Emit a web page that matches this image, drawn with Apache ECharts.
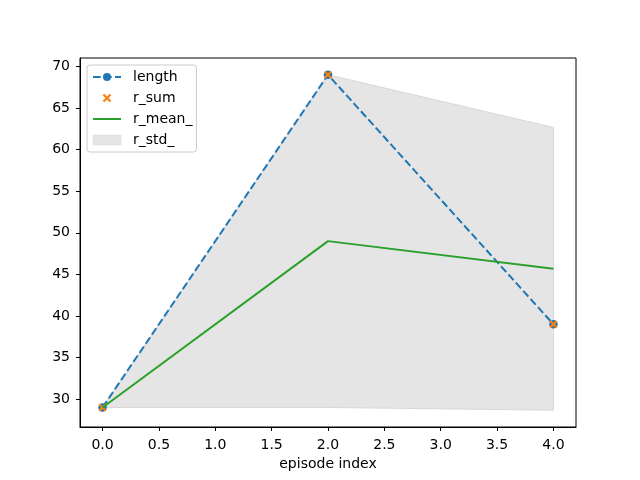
<!DOCTYPE html>
<html>
<head>
<meta charset="utf-8">
<script src="https://cdn.jsdelivr.net/npm/echarts@6/dist/echarts.min.js"></script>
<style>html,body{margin:0;padding:0;background:#fff}#c{width:640px;height:480px}</style>
</head>
<body>
<div id="c"></div>
<script>
// Data
var episodeIdx = [0, 2, 4];
var lengthVals = [29, 69, 39];
var rSumVals = [29, 69, 39];
var rMeanVals = [29, 49, 45.67];
var rStdVals = [0, 20, 17.0];
var xTicks = [0, 0.5, 1, 1.5, 2, 2.5, 3, 3.5, 4];
var yTicks = [30, 35, 40, 45, 50, 55, 60, 65, 70];

var FONT = 'DejaVu Sans';
function pairs(v) { return episodeIdx.map(function (x, i) { return [x, v[i]]; }); }
var bandData = episodeIdx.map(function (x, i) { return [x, rMeanVals[i] - rStdVals[i], rMeanVals[i] + rStdVals[i]]; });

// filled "x" marker shape, centred at (cx,cy), half-size h, arm offset t
function xShape(cx, cy, h, t) {
  var p = [[-h + t, -h], [0, -t], [h - t, -h], [h, -h + t], [t, 0], [h, h - t], [h - t, h], [0, t], [-h + t, h], [-h, h - t], [-t, 0], [-h, -h + t]];
  return p.map(function (q, i) { return (i ? 'L' : 'M') + (cx + q[0]) + ',' + (cy + q[1]); }).join('') + 'Z';
}
var xMark = 'path://' + xShape(5, 5, 5, 1.8);
var LW = 28, LH = 10;
var xLegendIcon = 'path://' + xShape(LW / 2, LH / 2, 4.3, 1.5) + 'M0,0M' + LW + ',' + LH;
var lineLegendIcon = 'path://M0,' + (LH / 2 - 1) + 'h' + LW + 'v2h-' + LW + 'zM0,0M' + LW + ',' + LH;

var chart = echarts.init(document.getElementById('c'), null, { renderer: 'canvas' });
chart.setOption({
  animation: false,
  backgroundColor: '#fff',
  textStyle: { fontFamily: FONT },
  grid: { left: 80, right: 64, top: 58, bottom: 53, show: true, borderColor: '#000', borderWidth: 1, backgroundColor: 'transparent' },
  xAxis: {
    type: 'value', min: -0.2, max: 4.2,
    name: 'episode index', nameLocation: 'middle', nameGap: 30,
    nameTextStyle: { fontFamily: FONT, fontSize: 14, color: '#000' },
    axisLine: { show: true, onZero: false, lineStyle: { color: '#000', width: 1 } },
    splitLine: { show: false },
    axisTick: { show: true, inside: false, length: 4, lineStyle: { color: '#000', width: 1 }, customValues: xTicks },
    axisLabel: { margin: 11, fontFamily: FONT, fontSize: 14, color: '#000', customValues: xTicks,
      formatter: function (v) { return v.toFixed(1); } }
  },
  yAxis: {
    type: 'value', min: 26.65, max: 71.02,
    axisLine: { show: true, onZero: false, lineStyle: { color: '#000', width: 1 } },
    splitLine: { show: false },
    axisTick: { show: true, inside: false, length: 4, lineStyle: { color: '#000', width: 1 }, customValues: yTicks },
    axisLabel: { margin: 10, padding: [3, 0, 0, 0], fontFamily: FONT, fontSize: 14, color: '#000', customValues: yTicks,
      formatter: function (v) { return String(v); } }
  },
  legend: {
    orient: 'vertical', left: 87, top: 65,
    padding: [5, 4, 5, 5],
    itemWidth: LW, itemHeight: LH, itemGap: 7,
    backgroundColor: 'rgba(255,255,255,0.8)',
    borderColor: '#cccccc', borderWidth: 1, borderRadius: 3,
    textStyle: { fontFamily: FONT, fontSize: 14, color: '#000', padding: [0, 0, 0, 7] },
    data: [
      { name: 'length' },
      { name: 'r_sum', icon: xLegendIcon },
      { name: 'r_mean_', icon: lineLegendIcon },
      { name: 'r_std_', icon: 'rect', itemStyle: { color: '#e5e5e5', borderColor: '#d9d9d9', borderWidth: 0.5 } }
    ]
  },
  series: [
    {
      name: 'r_std_', type: 'custom', z: 1,
      data: bandData,
      itemStyle: { color: '#e5e5e5' },
      renderItem: function (params, api) {
        if (params.dataIndex !== 0) return null;
        var pts = [];
        for (var i = 0; i < bandData.length; i++) pts.push(api.coord([bandData[i][0], bandData[i][2]]));
        for (var j = bandData.length - 1; j >= 0; j--) pts.push(api.coord([bandData[j][0], bandData[j][1]]));
        return { type: 'polygon', shape: { points: pts },
          style: { fill: '#e5e5e5', stroke: '#d8d8d8', lineWidth: 1 } };
      }
    },
    {
      name: 'length', type: 'line', z: 3,
      data: pairs(lengthVals),
      symbol: 'circle', symbolSize: 8.5,
      itemStyle: { color: '#1f77b4' },
      lineStyle: { color: '#1f77b4', width: 2, type: [7.7, 3.3] }
    },
    {
      name: 'r_sum', type: 'scatter', z: 4,
      data: pairs(rSumVals),
      symbol: xMark, symbolSize: 8,
      itemStyle: { color: '#ff7f0e', opacity: 1 }
    },
    {
      name: 'r_mean_', type: 'line', z: 5,
      data: pairs(rMeanVals),
      symbol: 'none', showSymbol: false,
      lineStyle: { color: '#2ca02c', width: 2 },
      itemStyle: { color: '#2ca02c' }
    }
  ]
});
</script>
</body>
</html>
